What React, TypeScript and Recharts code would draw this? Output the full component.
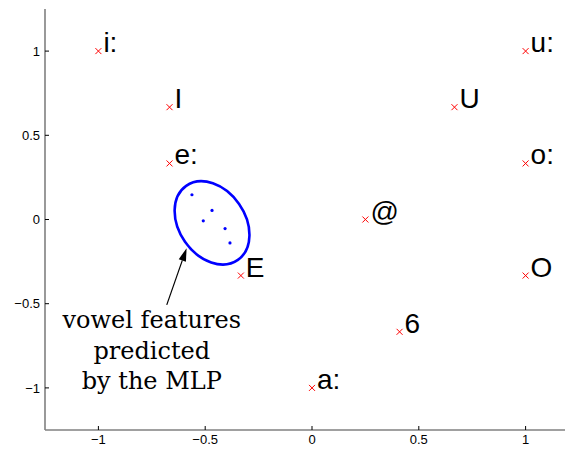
import { ReferenceLine, Scatter, ScatterChart, XAxis, YAxis } from 'recharts'

// vowel prototypes in the 2-D feature space
const vowelLabels = ['i:', 'I', 'e:', 'E', 'a:', '6', '@', 'U', 'u:', 'o:', 'O']
const vowelX = [-1, -0.667, -0.667, -0.333, 0, 0.41, 0.25, 0.667, 1, 1, 1]
const vowelY = [1, 0.667, 0.333, -0.333, -1, -0.667, 0, 0.667, 1, 0.333, -0.333]

// features predicted by the network
const predX = [-0.562, -0.468, -0.509, -0.407, -0.384]
const predY = [0.147, 0.054, -0.008, -0.054, -0.139]

// ellipse around the predictions: centre + two half-axis vectors (data units)
const ellipseCentre = { x: -0.468, y: -0.02 }
const ellipseMajor = { x: 0.121, y: -0.22 }
const ellipseMinor = { x: 0.1266, y: 0.1125 }

// annotation arrow and caption
const arrowTail = { x: -0.68, y: -0.507 }
const arrowTip = { x: -0.587, y: -0.17 }
const captionAnchor = { x: -0.75, y: -0.645 }
const captionLines = ['vowel features', 'predicted', 'by the MLP']

const axisTicks = [-1, -0.5, 0, 0.5, 1]
const domain: [number, number] = [-1.25, 1.25]

const WIDTH = 571
const HEIGHT = 442
const MARGIN = { top: 1, right: 0, left: 7, bottom: 0 }
const Y_AXIS_W = 30
const X_AXIS_H = 20
const SX = (WIDTH - MARGIN.left - MARGIN.right - Y_AXIS_W) / (domain[1] - domain[0])
const SY = (HEIGHT - MARGIN.top - MARGIN.bottom - X_AXIS_H) / (domain[1] - domain[0])

const vowels = vowelLabels.map((label, i) => ({ x: vowelX[i], y: vowelY[i], label }))
const predicted = predX.map((x, i) => ({ x, y: predY[i] }))

const fmt = (v: number) => (v < 0 ? '\u2212' + String(-v) : String(v))
const tickFont = { fontFamily: 'Liberation Sans, Arial, sans-serif', fontSize: 13, fill: '#000' }

const YTick = (props: any) => {
  const { x, y, payload } = props
  return (
    <g>
      <line x1={x + 5} x2={x + 9} y1={y} y2={y} stroke="#000" strokeWidth={1} />
      <text x={x} y={y} dy="0.36em" textAnchor="end" {...tickFont}>
        {fmt(payload.value)}
      </text>
    </g>
  )
}

const XTick = (props: any) => {
  const { x, y, payload } = props
  return (
    <g>
      <line x1={x} x2={x} y1={y} y2={y - 4} stroke="#000" strokeWidth={1} />
      <text x={x} y={y + 14} textAnchor="middle" {...tickFont}>
        {fmt(payload.value)}
      </text>
    </g>
  )
}

const VowelMark = (props: any) => {
  const { cx, cy, payload } = props
  const h = 3
  return (
    <g>
      <line x1={cx - h} y1={cy - h} x2={cx + h} y2={cy + h} stroke="#ff0000" strokeWidth={1} />
      <line x1={cx - h} y1={cy + h} x2={cx + h} y2={cy - h} stroke="#ff0000" strokeWidth={1} />
      <text
        x={cx + 5}
        y={cy + 1}
        fontFamily="Liberation Sans, Arial, sans-serif"
        fontSize={28}
        fill="#000"
      >
        {payload.label}
      </text>
    </g>
  )
}

const EllipseShape = (props: any) => {
  const { cx, cy } = props
  const m = [
    SX * ellipseMajor.x,
    -SY * ellipseMajor.y,
    SX * ellipseMinor.x,
    -SY * ellipseMinor.y,
    cx,
    cy,
  ]
  return (
    <circle
      r={1}
      cx={0}
      cy={0}
      transform={`matrix(${m.join(' ')})`}
      fill="none"
      stroke="#0000ff"
      strokeWidth={2.6}
      vectorEffect="non-scaling-stroke"
    />
  )
}

const Caption = (props: any) => {
  const { cx, cy } = props
  return (
    <text
      x={cx}
      y={cy}
      textAnchor="middle"
      fontFamily="DejaVu Serif, serif"
      fontSize={24}
      fill="#000"
    >
      {captionLines.map((line, i) => (
        <tspan key={line} x={cx} dy={i === 0 ? 0 : 30.5}>
          {line}
        </tspan>
      ))}
    </text>
  )
}

const Arrow = (props: any) => {
  const { x1, y1, x2, y2 } = props
  const dx = x2 - x1
  const dy = y2 - y1
  const len = Math.sqrt(dx * dx + dy * dy)
  const ux = dx / len
  const uy = dy / len
  const headLen = 13
  const headW = 3.8
  const bx = x2 - ux * headLen
  const by = y2 - uy * headLen
  return (
    <g>
      <line x1={x1} y1={y1} x2={bx} y2={by} stroke="#000" strokeWidth={1.2} />
      <polygon
        points={`${x2},${y2} ${bx - uy * headW},${by + ux * headW} ${bx + uy * headW},${by - ux * headW}`}
        fill="#000"
      />
    </g>
  )
}

export default function App() {
  return (
    <div style={{ width: 565, height: 444, overflow: 'hidden', background: '#fff' }}>
      <ScatterChart width={WIDTH} height={HEIGHT} margin={MARGIN}>
        <XAxis
          type="number"
          dataKey="x"
          domain={domain}
          ticks={axisTicks}
          allowDataOverflow
          height={X_AXIS_H}
          tickSize={0}
          tickMargin={0}
          tick={<XTick />}
          axisLine={{ stroke: '#808080', strokeWidth: 1.6 }}
        />
        <YAxis
          type="number"
          dataKey="y"
          domain={domain}
          ticks={axisTicks}
          allowDataOverflow
          width={Y_AXIS_W}
          tickSize={0}
          tickMargin={5}
          tick={<YTick />}
          axisLine={{ stroke: '#808080', strokeWidth: 1.6 }}
        />
        <Scatter data={[ellipseCentre]} shape={<EllipseShape />} isAnimationActive={false} />
        <Scatter data={predicted} fill="#0000ff" shape={(p: any) => <circle cx={p.cx} cy={p.cy} r={1.6} fill="#0000ff" />} isAnimationActive={false} />
        <Scatter data={vowels} shape={<VowelMark />} isAnimationActive={false} />
        <ReferenceLine segment={[arrowTail, arrowTip]} shape={<Arrow />} ifOverflow="visible" />
        <Scatter data={[captionAnchor]} shape={<Caption />} isAnimationActive={false} />
      </ScatterChart>
    </div>
  )
}
